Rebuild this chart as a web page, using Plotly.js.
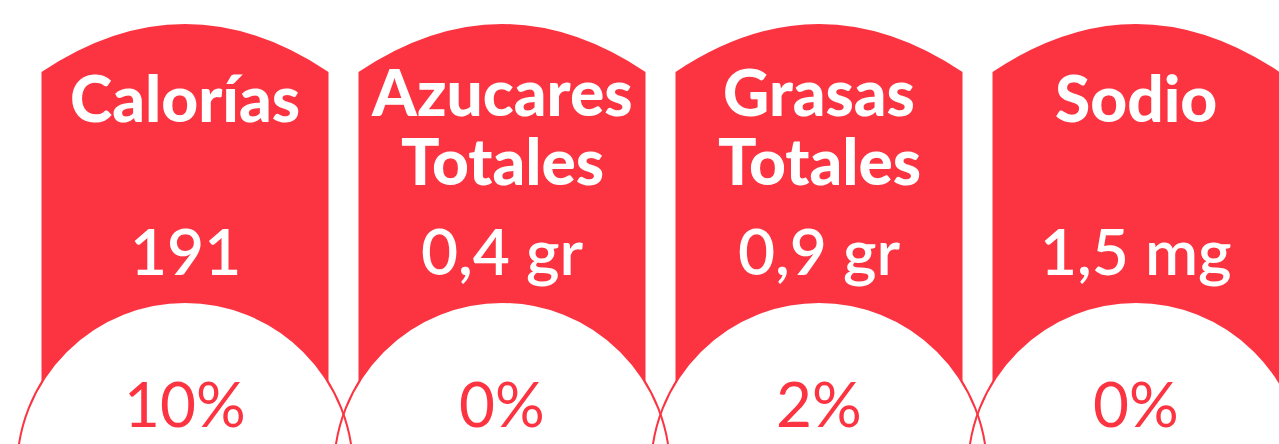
<!DOCTYPE html>
<html>
<head>
<meta charset="utf-8">
<script src="https://cdn.plot.ly/plotly-3.0.1.min.js"></script>
<style>
  html, body { margin: 0; padding: 0; background: #ffffff; }
  #chart { width: 1279px; height: 444px; }
</style>
</head>
<body>
<div id="chart"></div>
<script>
// ---- data ----
var nutrients = ["Calorías", "Azucares Totales", "Grasas Totales", "Sodio"];
var amounts = ["191", "0,4 gr", "0,9 gr", "1,5 mg"];
var dailyPct = [10, 0, 2, 0];

// ---- style ----
var RED = "#FC3441";
var FONT = "Lato, 'Open Sans', sans-serif";

var halfW = 0.4527;      // half width of a panel, in category units
var circR = 0.530;       // circle radius in category units (x)
var circRy = 168;        // circle radius in y units
var circCy = 470;

var shapes = [];
var annotations = [];

// red panels
nutrients.forEach(function (n, i) {
  var l = i - halfW, r = i + halfW;
  shapes.push({
    type: "path", xref: "x", yref: "y", layer: "above",
    path: "M " + l + ",460 L " + l + ",72 Q " + i + ",-24 " + r + ",72 L " + r + ",460 Z",
    fillcolor: RED, line: { width: 0 }
  });
});
// white circle fills
nutrients.forEach(function (n, i) {
  shapes.push({
    type: "circle", xref: "x", yref: "y", layer: "above",
    x0: i - circR, x1: i + circR, y0: circCy - circRy, y1: circCy + circRy,
    fillcolor: "#ffffff", line: { width: 0 }
  });
});
// circle outlines
nutrients.forEach(function (n, i) {
  shapes.push({
    type: "circle", xref: "x", yref: "y", layer: "above",
    x0: i - circR, x1: i + circR, y0: circCy - circRy, y1: circCy + circRy,
    fillcolor: "rgba(0,0,0,0)", line: { width: 2, color: RED }
  });
});

nutrients.forEach(function (n, i) {
  var lines = n.split(" ");
  var ys = lines.length === 1 ? [97] : [91, 160];
  lines.forEach(function (t, k) {
    annotations.push({
      x: i, y: ys[k], xref: "x", yref: "y", text: t, showarrow: false,
      xanchor: "center", yanchor: "middle",
      font: { family: FONT, size: 64, color: "#ffffff", weight: 900 }
    });
  });
  annotations.push({
    x: i, y: 250, xref: "x", yref: "y", text: amounts[i], showarrow: false,
    xanchor: "center", yanchor: "middle",
    font: { family: FONT, size: 64, color: "#ffffff", weight: 600 }
  });
  annotations.push({
    x: i, y: 403, xref: "x", yref: "y", text: dailyPct[i] + "%", showarrow: false,
    xanchor: "center", yanchor: "middle",
    font: { family: FONT, size: 62, color: RED, weight: 400 }
  });
});

var trace = {
  x: [0, 1, 2, 3], y: [0, 0, 0, 0], type: "scatter", mode: "markers",
  marker: { opacity: 0 }, hoverinfo: "skip", showlegend: false
};

var layout = {
  width: 1279, height: 444,
  margin: { l: 0, r: 0, t: 0, b: 0, pad: 0 },
  paper_bgcolor: "#ffffff", plot_bgcolor: "#ffffff",
  showlegend: false,
  xaxis: { range: [-0.5836, 3.4511], visible: false, fixedrange: true },
  yaxis: { range: [444, 0], visible: false, fixedrange: true },
  shapes: shapes,
  annotations: annotations
};

Plotly.newPlot("chart", [trace], layout, { displayModeBar: false, staticPlot: true });
</script>
</body>
</html>
